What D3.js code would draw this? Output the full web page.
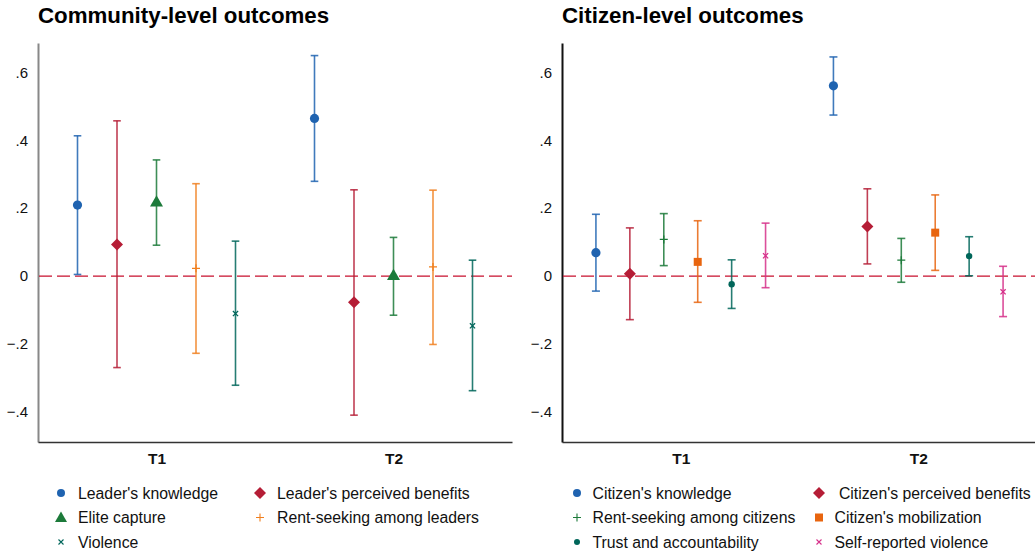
<!DOCTYPE html>
<html>
<head>
<meta charset="utf-8">
<script src="https://cdn.jsdelivr.net/npm/d3@7"></script>
<style>
  body { margin: 0; background: #fff; }
  svg text { font-family: "Liberation Sans", Arial, Helvetica, sans-serif; }
</style>
</head>
<body>
<div id="chart"></div>
<script>
// groups on the x axis
var groups = ['T1', 'T2'];
var yTicks = [-0.4, -0.2, 0, 0.2, 0.4, 0.6];

// community-level outcomes (point estimate, lower CI, upper CI), one value per group
var communityNames = ["Leader's knowledge", "Leader's perceived benefits", "Elite capture", "Rent-seeking among leaders", "Violence"];
var communityEst = [[0.209, 0.464], [0.093, -0.077], [0.219, 0.003], [0.023, 0.027], [-0.110, -0.146]];
var communityLo = [[0.005, 0.279], [-0.269, -0.409], [0.091, -0.115], [-0.227, -0.201], [-0.321, -0.337]];
var communityHi = [[0.413, 0.649], [0.457, 0.254], [0.342, 0.114], [0.272, 0.253], [0.103, 0.047]];

// citizen-level outcomes
var citizenNames = ["Citizen's knowledge", " Citizen's perceived benefits", "Rent-seeking among citizens", "Citizen's mobilization", "Trust and accountability", "Self-reported violence"];
var citizenEst = [[0.069, 0.560], [0.007, 0.146], [0.108, 0.047], [0.042, 0.128], [-0.024, 0.059], [0.060, -0.046]];
var citizenLo = [[-0.044, 0.474], [-0.128, 0.036], [0.031, -0.018], [-0.077, 0.017], [-0.095, 0.001], [-0.034, -0.119]];
var citizenHi = [[0.182, 0.645], [0.142, 0.257], [0.184, 0.111], [0.163, 0.239], [0.048, 0.116], [0.156, 0.029]];

var W = 1035, H = 553;
var svg = d3.select('#chart').append('svg')
  .attr('width', W)
  .attr('height', H);

// marker shapes
function markerPath(type, s) {
  if (type === 'circle') return d3.symbol(d3.symbolCircle, Math.PI * s * s)();
  if (type === 'dot') return d3.symbol(d3.symbolCircle, Math.PI * s * s)();
  if (type === 'square') return d3.symbol(d3.symbolSquare, 4 * s * s)();
  if (type === 'diamond') return 'M0,' + (-s) + 'L' + s + ',0L0,' + s + 'L' + (-s) + ',0Z';
  if (type === 'triangle') return 'M0,' + (-s) + 'L' + (s * 1.0) + ',' + (s * 0.75) + 'L' + (-s * 1.0) + ',' + (s * 0.75) + 'Z';
  if (type === 'plus') return 'M' + (-s) + ',0H' + s + 'M0,' + (-s) + 'V' + s;
  if (type === 'x') return 'M' + (-s) + ',' + (-s) + 'L' + s + ',' + s + 'M' + s + ',' + (-s) + 'L' + (-s) + ',' + s;
}

function fmtTick(v) {
  if (v === 0) return '0';
  return d3.format('.1f')(v).replace('0.', '.');
}

function drawPanel(cfg) {
  var x = d3.scaleLinear().domain([0.5, 2.5]).range([cfg.left, cfg.right]);
  var y = d3.scaleLinear().domain([-0.488, 0.686]).range([442, 43]);
  var n = cfg.names.length;
  var step = 1 / (n + 1);

  var g = svg.append('g');

  g.append('text')
    .attr('x', cfg.left)
    .attr('y', 23)
    .style('font-size', '22.3px')
    .style('font-weight', 'bold')
    .text(cfg.title);

  // y axis
  var yAxis = g.append('g')
    .attr('transform', 'translate(' + cfg.left + ',0)')
    .call(d3.axisLeft(y).tickValues(yTicks).tickSize(0).tickSizeOuter(0).tickPadding(10).tickFormat(fmtTick));
  yAxis.select('.domain').attr('stroke', cfg.axisColor).attr('stroke-width', 2);
  yAxis.selectAll('text').style('font-size', '15px').attr('fill', '#111');

  // x axis
  var xAxis = g.append('g')
    .attr('transform', 'translate(0,442)')
    .call(d3.axisBottom(x).tickValues([1, 2]).tickSize(0).tickSizeOuter(0).tickPadding(11).tickFormat(function (d) { return groups[d - 1]; }));
  xAxis.select('.domain').attr('stroke', '#333').attr('stroke-width', 1.5);
  xAxis.selectAll('text').style('font-size', '15.5px').style('font-weight', 'bold').attr('fill', '#111');

  // zero line
  g.append('line')
    .attr('x1', cfg.left + 1).attr('x2', cfg.right)
    .attr('y1', y(0)).attr('y2', y(0))
    .attr('stroke', '#c8102e')
    .attr('stroke-width', 1.4)
    .attr('stroke-dasharray', '13,5');

  // series
  var rows = [];
  cfg.names.forEach(function (name, i) {
    groups.forEach(function (grp, j) {
      rows.push({
        i: i,
        pos: j + 1 + (i - (n - 1) / 2) * step,
        est: cfg.est[i][j],
        lo: cfg.lo[i][j],
        hi: cfg.hi[i][j]
      });
    });
  });

  var cap = cfg.cap;
  var bars = g.selectAll('g.ci').data(rows).enter().append('g').attr('class', 'ci');
  bars.append('line')
    .attr('x1', d => x(d.pos)).attr('x2', d => x(d.pos))
    .attr('y1', d => y(d.lo)).attr('y2', d => y(d.hi));
  bars.append('line')
    .attr('x1', d => x(d.pos) - cap).attr('x2', d => x(d.pos) + cap)
    .attr('y1', d => y(d.lo)).attr('y2', d => y(d.lo));
  bars.append('line')
    .attr('x1', d => x(d.pos) - cap).attr('x2', d => x(d.pos) + cap)
    .attr('y1', d => y(d.hi)).attr('y2', d => y(d.hi));
  bars.selectAll('line')
    .attr('stroke', d => cfg.colors[d.i])
    .attr('stroke-opacity', 0.85)
    .attr('stroke-width', 1.6);

  bars.append('path')
    .attr('transform', d => 'translate(' + x(d.pos) + ',' + y(d.est) + ')')
    .attr('d', d => markerPath(cfg.shapes[d.i], cfg.sizes[d.i]))
    .attr('fill', d => (cfg.shapes[d.i] === 'plus' || cfg.shapes[d.i] === 'x') ? 'none' : cfg.colors[d.i])
    .attr('stroke', d => cfg.colors[d.i])
    .attr('stroke-width', d => (cfg.shapes[d.i] === 'plus' || cfg.shapes[d.i] === 'x') ? 1.3 : 0);

  // legend
  var leg = g.selectAll('g.leg').data(cfg.names).enter().append('g')
    .attr('class', 'leg')
    .attr('transform', (d, i) => 'translate(' + cfg.legX[i % 2] + ',' + (493 + Math.floor(i / 2) * 24.5) + ')');
  leg.append('path')
    .attr('d', (d, i) => markerPath(cfg.shapes[i], cfg.legSizes[i]))
    .attr('fill', (d, i) => (cfg.shapes[i] === 'plus' || cfg.shapes[i] === 'x') ? 'none' : cfg.colors[i])
    .attr('stroke', (d, i) => cfg.colors[i])
    .attr('stroke-width', (d, i) => (cfg.shapes[i] === 'plus' || cfg.shapes[i] === 'x') ? 1.1 : 0);
  leg.append('text')
    .attr('x', cfg.legGap)
    .attr('dy', '0.35em')
    .style('font-size', '15.8px')
    .style('white-space', 'pre')
    .attr('fill', '#111')
    .text(d => d);
}

drawPanel({
  title: 'Community-level outcomes',
  left: 38, right: 512,
  axisColor: '#888',
  names: communityNames, est: communityEst, lo: communityLo, hi: communityHi,
  colors: ['#1f63b0', '#b51d36', '#1c7a3a', '#f07f1e', '#00665a'],
  shapes: ['circle', 'diamond', 'triangle', 'plus', 'x'],
  sizes: [4.6, 6, 6.5, 4, 2.6],
  legSizes: [4, 6, 6, 4, 2.5],
  cap: 3.8,
  legX: [61, 260],
  legGap: 17
});

drawPanel({
  title: 'Citizen-level outcomes',
  left: 562, right: 1037,
  axisColor: '#111',
  names: citizenNames, est: citizenEst, lo: citizenLo, hi: citizenHi,
  colors: ['#1f63b0', '#b51d36', '#1c7a3a', '#e8650f', '#00665a', '#d6308a'],
  shapes: ['circle', 'diamond', 'plus', 'square', 'dot', 'x'],
  sizes: [4.6, 6, 4, 4, 3.2, 2.6],
  legSizes: [4, 6, 4, 4, 3, 2.5],
  cap: 4,
  legX: [577, 819],
  legGap: 15.5
});
</script>
</body>
</html>
